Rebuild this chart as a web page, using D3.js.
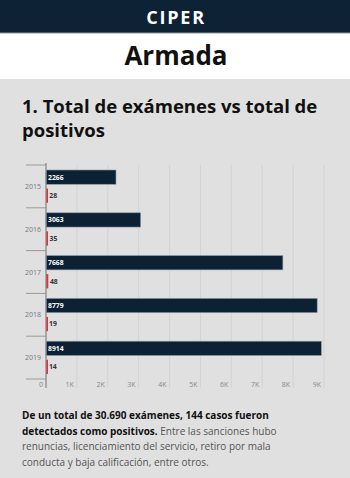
<!DOCTYPE html>
<html>
<head>
<meta charset="utf-8">
<script src="https://cdn.jsdelivr.net/npm/d3@7"></script>
<style>
  html, body { margin: 0; padding: 0; background: #e0e0e0; }
  svg { display: block; }
</style>
</head>
<body>
<script>
const width = 350;
const height = 478;

const years = ['2015', '2016', '2017', '2018', '2019'];
const examenes = [2266, 3063, 7668, 8779, 8914];
const positivos = [28, 35, 48, 19, 14];
const xTicks = [0, 1000, 2000, 3000, 4000, 5000, 6000, 7000, 8000, 9000];

const rows = years.map((y, i) => ({ year: y, examenes: examenes[i], positivos: positivos[i] }));

const svg = d3.select('body')
    .append('svg')
    .attr('width', width)
    .attr('height', height);

// header
svg.append('rect')
    .attr('width', width).attr('height', 33)
    .attr('fill', '#0d2235');
svg.append('rect')
    .attr('y', 32).attr('width', width).attr('height', 1.5)
    .attr('fill', '#4a5a66');
svg.append('text')
    .attr('x', width / 2 + 1).attr('y', 24)
    .attr('text-anchor', 'middle')
    .style('font', 'bold 18px "Open Sans", sans-serif')
    .style('letter-spacing', '1.8px')
    .attr('fill', '#fff')
    .text('CIPER');

svg.append('rect')
    .attr('y', 33.5).attr('width', width).attr('height', 45.5)
    .attr('fill', '#fff');
svg.append('text')
    .attr('x', width / 2 + 1).attr('y', 65)
    .attr('text-anchor', 'middle')
    .style('font', 'bold 26px "Open Sans", sans-serif')
    .attr('fill', '#111')
    .text('Armada');

// title
const title = svg.append('text')
    .style('font', 'bold 18.5px "Open Sans", sans-serif')
    .attr('fill', '#111');
title.append('tspan').attr('x', 22).attr('y', 113).text('1. Total de exámenes vs total de');
title.append('tspan').attr('x', 22).attr('y', 137).text('positivos');

// chart
const x0 = 46;
const x = d3.scaleLinear()
    .domain([0, 9000])
    .range([x0, 324]);

const y = d3.scaleBand()
    .domain(years)
    .range([165, 379]);

const sub = d3.scaleBand()
    .domain(['examenes', 'positivos'])
    .range([0, y.bandwidth()])
    .paddingInner(0.23)
    .paddingOuter(0.27);

const chart = svg.append('g');

chart.selectAll('line.grid')
    .data(xTicks.slice(1))
    .enter().append('line')
    .attr('class', 'grid')
    .attr('x1', d => x(d)).attr('x2', d => x(d))
    .attr('y1', 165).attr('y2', 388)
    .attr('stroke', '#d2d2d2')
    .attr('stroke-width', 1);

// category separators
chart.selectAll('line.sep')
    .data(years.concat(['end']))
    .enter().append('line')
    .attr('class', 'sep')
    .attr('x1', 26).attr('x2', x0)
    .attr('y1', (d, i) => i < years.length ? y(d) : y.range()[1])
    .attr('y2', (d, i) => i < years.length ? y(d) : y.range()[1])
    .attr('stroke', '#9a9a9a')
    .attr('stroke-width', 1);

chart.selectAll('text.year')
    .data(years)
    .enter().append('text')
    .attr('class', 'year')
    .attr('x', 41)
    .attr('y', d => y(d) + y.bandwidth() / 2 + 2.5)
    .attr('text-anchor', 'end')
    .style('font', '7px "Open Sans", sans-serif')
    .attr('fill', '#777')
    .text(d => d);

const g = chart.selectAll('g.row')
    .data(rows)
    .enter().append('g')
    .attr('transform', d => `translate(0,${y(d.year)})`);

g.append('rect')
    .attr('x', x0)
    .attr('y', sub('examenes'))
    .attr('width', d => x(d.examenes) - x0)
    .attr('height', sub.bandwidth())
    .attr('fill', '#0c2133')
    .attr('stroke', '#8a98a4')
    .attr('stroke-width', 0.6);

g.append('rect')
    .attr('x', x0)
    .attr('y', sub('positivos'))
    .attr('width', d => Math.max(x(d.positivos) - x0, 1.2) + 0.8)
    .attr('height', sub.bandwidth())
    .attr('fill', '#ec2a35');

g.append('text')
    .attr('x', x0 + 2)
    .attr('y', sub('examenes') + sub.bandwidth() / 2 + 2.4)
    .style('font', 'bold 6.8px "Open Sans", sans-serif')
    .attr('fill', '#fff')
    .text(d => d.examenes);

g.append('text')
    .attr('x', d => x(d.positivos) + 2.5)
    .attr('y', sub('positivos') + sub.bandwidth() / 2 + 2.4)
    .style('font', 'bold 6.8px "Open Sans", sans-serif')
    .attr('fill', '#333')
    .text(d => d.positivos);

// axis line
chart.append('line')
    .attr('x1', x0).attr('x2', x0)
    .attr('y1', 163).attr('y2', 388)
    .attr('stroke', '#8a8a8a')
    .attr('stroke-width', 1.3);

chart.selectAll('text.tick')
    .data(xTicks)
    .enter().append('text')
    .attr('class', 'tick')
    .attr('x', d => x(d) - 3)
    .attr('y', 387)
    .attr('text-anchor', 'end')
    .style('font', '7px "Open Sans", sans-serif')
    .attr('fill', '#888')
    .text(d => d === 0 ? '0' : d3.format('~s')(d).replace('k', 'K'));

// footnote
const note = svg.append('text')
    .style('font', '10px "Open Sans", sans-serif')
    .attr('fill', '#555');
const l1 = note.append('tspan').attr('x', 22).attr('y', 419);
l1.append('tspan').attr('font-weight', 'bold').attr('fill', '#111')
    .text('De un total de 30.690 exámenes, 144 casos fueron');
const l2 = note.append('tspan').attr('x', 22).attr('y', 434.5);
l2.append('tspan').attr('font-weight', 'bold').attr('fill', '#111')
    .text('detectados como positivos.');
l2.append('tspan').text(' Entre las sanciones hubo');
note.append('tspan').attr('x', 22).attr('y', 450).text('renuncias, licenciamiento del servicio, retiro por mala');
note.append('tspan').attr('x', 22).attr('y', 465.5).text('conducta y baja calificación, entre otros.');
</script>
</body>
</html>
